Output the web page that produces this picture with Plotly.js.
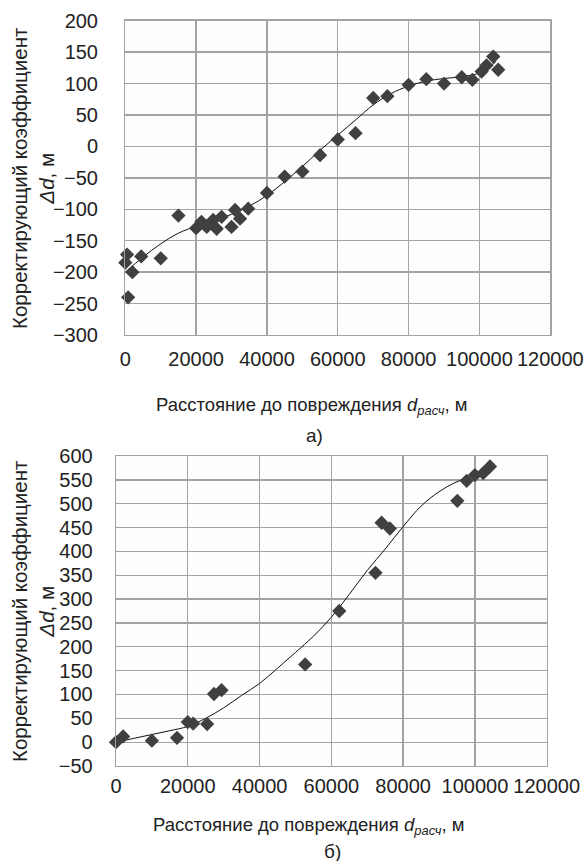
<!DOCTYPE html>
<html>
<head>
<meta charset="utf-8">
<script src="https://cdn.plot.ly/plotly-3.0.1.min.js"></script>
<style>
html,body{margin:0;padding:0;background:#fff;}
#chart{width:586px;height:861px;}
</style>
</head>
<body>
<div id="chart"></div>
<script>
// Chart a) measured points
const distA = [0, 500, 800, 2000, 4500, 10000, 15000, 20000, 21500, 23000, 24800, 25800, 27200, 30000, 31000, 32400, 34700, 40000, 45000, 50000, 55000, 60000, 65000, 70000, 74000, 80000, 85000, 90000, 95000, 98000, 100600, 102000, 103900, 105300];
const corrA = [-185, -172, -240, -200, -175, -178, -110, -130, -120, -128, -117, -131, -112, -128, -101, -115, -99, -74, -48, -40, -14, 11, 21, 77, 80, 98, 107, 100, 110, 106, 119, 129, 143, 122];
// Chart a) trend line
const trendXA = [0, 5000, 10000, 15000, 20000, 25000, 30000, 35000, 40000, 45000, 50000, 55000, 60000, 65000, 70000, 75000, 80000, 85000, 90000, 95000, 100000, 104700];
const trendYA = [-200, -176, -155, -138, -127, -118, -108, -95, -78, -56, -32, -6, 18, 42, 66, 84, 96, 104, 108, 111, 117, 135];

// Chart б) measured points
const distB = [0, 2000, 10000, 17000, 20000, 21500, 25400, 27300, 29400, 52700, 62200, 72300, 74000, 76300, 95100, 97700, 100000, 102300, 104200];
const corrB = [0, 12, 3, 9, 42, 39, 38, 101, 109, 163, 275, 355, 460, 448, 506, 548, 560, 564, 578];
// Chart б) trend line
const trendXB = [0, 5000, 10000, 15000, 20000, 25000, 30000, 35000, 40000, 45000, 50000, 55000, 60000, 65000, 70000, 75000, 80000, 85000, 90000, 95000, 100000, 104200];
const trendYB = [0, 8, 16, 24, 33, 50, 72, 98, 123, 155, 188, 222, 262, 310, 360, 405, 452, 495, 525, 546, 558, 565];

const xTickVals = [0, 20000, 40000, 60000, 80000, 100000, 120000];
const xTickText = ['0', '20000', '40000', '60000', '80000', '100000', '120000'];

const xTitle = 'Расстояние до повреждения <i>d</i><sub><i>расч</i></sub>, м';
const yTitle = 'Корректирующий коэффициент<br><i>Δd</i>, м';
const panelLabels = ['а)', 'б)'];

const FONT = 'Liberation Sans, Arial, sans-serif';
const TXT = '#222222';
const GRID = '#a3a3a3';
const MARK = '#404040';

const traces = [
  {x: trendXA, y: trendYA, type: 'scatter', mode: 'lines', line: {color: '#111', width: 1, shape: 'spline'}, xaxis: 'x', yaxis: 'y', hoverinfo: 'skip'},
  {x: distA, y: corrA, type: 'scatter', mode: 'markers', marker: {symbol: 'diamond', size: 11, color: MARK}, xaxis: 'x', yaxis: 'y', cliponaxis: false},
  {x: trendXB, y: trendYB, type: 'scatter', mode: 'lines', line: {color: '#111', width: 1, shape: 'spline'}, xaxis: 'x2', yaxis: 'y2', hoverinfo: 'skip'},
  {x: distB, y: corrB, type: 'scatter', mode: 'markers', marker: {symbol: 'diamond', size: 11, color: MARK}, xaxis: 'x2', yaxis: 'y2', cliponaxis: false}
];

function xaxis(domain, anchor, standoffLab) {
  return {
    domain: domain, anchor: anchor, range: [0, 120000],
    tickvals: xTickVals, ticktext: xTickText, tickangle: 0,
    showgrid: true, gridcolor: GRID, gridwidth: 1.3, zeroline: false,
    showline: true, linecolor: GRID, linewidth: 1.3, mirror: true,
    ticks: '', ticklabelstandoff: standoffLab,
    tickfont: {family: FONT, size: 20, color: TXT}
  };
}
function yaxis(domain, anchor, range, standoffLab) {
  return {
    domain: domain, anchor: anchor, range: range, dtick: 50, tick0: 0,
    showgrid: true, gridcolor: GRID, gridwidth: 1.3, zeroline: false,
    showline: true, linecolor: GRID, linewidth: 1.3, mirror: true,
    ticks: '', ticklabelstandoff: standoffLab,
    tickfont: {family: FONT, size: 20, color: TXT}
  };
}

function note(text, cx, cy, size, angle) {
  return {text: text, xref: 'paper', yref: 'paper', x: cx / 586, y: 1 - cy / 861,
    xanchor: 'center', yanchor: 'middle', showarrow: false, textangle: angle || 0,
    font: {family: FONT, size: size, color: TXT}};
}

const layout = {
  width: 586, height: 861,
  margin: {l: 0, r: 0, t: 0, b: 0},
  paper_bgcolor: '#ffffff', plot_bgcolor: '#fdfdfd',
  showlegend: false,
  font: {family: FONT, color: TXT},
  xaxis: xaxis([125.3/586, 550.3/586], 'y', 6),
  yaxis: yaxis([1 - 335/861, 1 - 20.7/861], 'x', [-300, 200], 22),
  xaxis2: xaxis([116/586, 546.7/586], 'y2', 2),
  yaxis2: yaxis([1 - 766/861, 1 - 456/861], 'x2', [-50, 600], 18),
  annotations: [
    note(yTitle, 33, 178, 20.5, -90),
    note(yTitle, 33, 611, 20.5, -90),
    note(xTitle, 311, 406, 18.5),
    note(panelLabels[0], 314, 436, 19),
    note(xTitle, 308, 826, 18.5),
    note(panelLabels[1], 332, 851, 19)
  ]
};

Plotly.newPlot('chart', traces, layout, {staticPlot: true, displayModeBar: false});
</script>
</body>
</html>
